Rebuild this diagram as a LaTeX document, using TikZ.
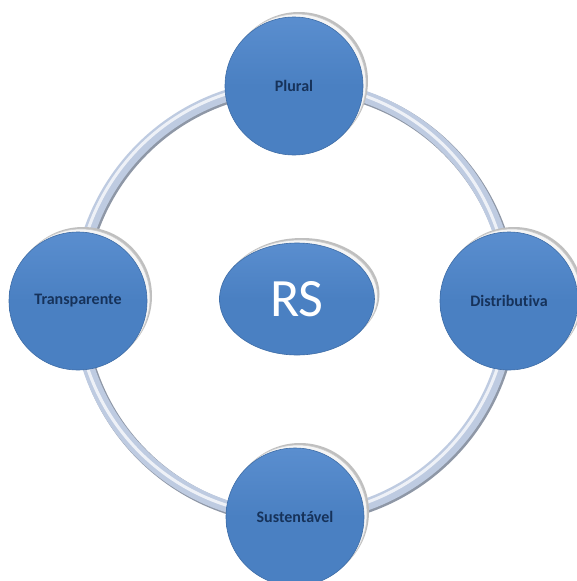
\documentclass[tikz,border=0pt]{standalone}
\usepackage{fontspec}
\setmainfont{Carlito}[Ligatures=NoCommon]
\usetikzlibrary{shapes.geometric,shadows}
\definecolor{bblue}{HTML}{4A80C2}
\definecolor{bbluetop}{HTML}{5A8ECF}
\definecolor{bedge}{HTML}{3D6CA6}
\definecolor{txtnavy}{HTML}{16325A}
\definecolor{tube}{HTML}{BECBE1}
\definecolor{tubeedge}{HTML}{8E97A6}
\tikzset{
  rimshadow/.style={
    copy shadow={shadow xshift=5pt, shadow yshift=5pt, fill=gray!50, draw=none},
    copy shadow={shadow xshift=3pt, shadow yshift=3pt, fill=white!92!gray, draw=gray!40, line width=0.6pt}},
  bubble/.style={circle, minimum size=138pt, inner sep=0pt, rimshadow,
    top color=bbluetop, bottom color=bblue, middle color=bblue, draw=bedge, line width=0.6pt,
    text=txtnavy, font=\fontsize{16}{18}\selectfont\bfseries},
  hub/.style={ellipse, minimum width=155pt, minimum height=112pt, inner sep=0pt, rimshadow,
    top color=bbluetop, bottom color=bblue, middle color=bblue, draw=bedge, line width=0.6pt,
    text=white, font=\fontsize{54}{58}\selectfont},
}
\begin{document}
\begin{tikzpicture}[x=1pt,y=-1pt]
\useasboundingbox (0,0) rectangle (576,581);
\fill[white] (0,0) rectangle (576,581);
% ring (tube), lit from upper left
\coordinate (ringc) at (294,301);
\coordinate (ringd) at (295.5,302.5);
\coordinate (ringl) at (292.5,299.5);
\draw[tubeedge, line width=13pt] (ringd) circle[radius=216];
\draw[tube, line width=12pt] (ringc) circle[radius=216];
\draw[white, line width=3pt, opacity=0.75] (ringl) circle[radius=216];
% nodes
\node[bubble] (plural) at (294,86) {Plural};
\node[bubble] (transp) at (78,301) {Transparente};
\node[bubble] (distr) at (509,301) {Distributiva};
\node[bubble] (sust) at (295,517) {Sustentável};
\node[hub] (rs) at (297,299) {RS};
\end{tikzpicture}
\end{document}
